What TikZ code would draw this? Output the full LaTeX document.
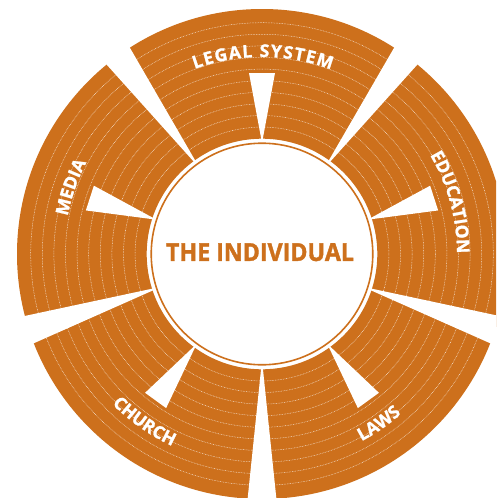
\documentclass[tikz,border=0pt]{standalone}
\usepackage{fontspec}
\usepackage{graphicx}
\usetikzlibrary{decorations.text,calc}
\newfontfamily\lblfont{Open Sans}[FakeBold=1.3]
\newfontfamily\ctrfont{Open Sans}[FakeBold=1.6]
\definecolor{orng}{RGB}{205,112,28}
\newcommand{\lblf}{\lblfont\bfseries\fontsize{17.5}{17.5}\selectfont}
\begin{document}
\begin{tikzpicture}[x=1pt,y=1pt,
  dotring/.style={white, line width=0.5pt, dash pattern=on 0.7pt off 0.9pt, opacity=0.8},
  arclabel/.style={decorate, decoration={text along path, text align=fit to path, text color=white}},
]
\useasboundingbox (0,-498) rectangle (496,0);
\clip (0,-498) rectangle (496,0);
\coordinate (C) at (262,-254);
% orange ring
\fill[orng, even odd rule] (C) circle[radius=245] (C) circle[radius=115.3];
% dotted rings
\foreach \k in {1,...,10} \draw[dotring] (C) circle[radius={115.3+11.6*\k}];
% separating gaps
\foreach \a in {270,342,54,126,198} {
  \fill[white] ($(C)+(\a:106)$) -- ($(C)+(\a:270)+(\a+90:17)$) -- ($(C)+(\a:270)+(\a-90:17)$) -- cycle;
}
% notches
\foreach \a in {18,90,162,234,306} {
  \fill[white] ($(C)+(\a:111)$) -- ($(C)+(\a:181)+(\a+90:13)$) -- ($(C)+(\a:181)+(\a-90:13)$) -- cycle;
}
% labels
\path[arclabel, decoration={text={|\lblf|LEGAL SYSTEM}}]
  ($(C)+(110:197)$) arc[start angle=110, end angle=69.5, radius=197];
\path[arclabel, decoration={text={|\lblf|MEDIA}}]
  ($(C)+(169:198)$) arc[start angle=169, end angle=153, radius=198];
\path[arclabel, decoration={text={|\lblf|EDUCATION}}]
  ($(C)+(30.5:195)$) arc[start angle=30.5, end angle=0.5, radius=195];
\path[arclabel, decoration={text={|\lblf|CHURCH}}]
  ($(C)+(225:212)$) arc[start angle=225, end angle=244, radius=212];
\path[arclabel, decoration={text={|\lblf|LAWS}}]
  ($(C)+(298:212)$) arc[start angle=298, end angle=310.5, radius=212];
% inner circle
\fill[white] (C) circle[radius=113];
\draw[orng, line width=1.6pt] (C) circle[radius=110.8];
\node[inner sep=0, text=orng] (ctr) at (260,-252.2) {\resizebox{188pt}{17.7pt}{\ctrfont\bfseries THE INDIVIDUAL}};
\end{tikzpicture}
\end{document}
